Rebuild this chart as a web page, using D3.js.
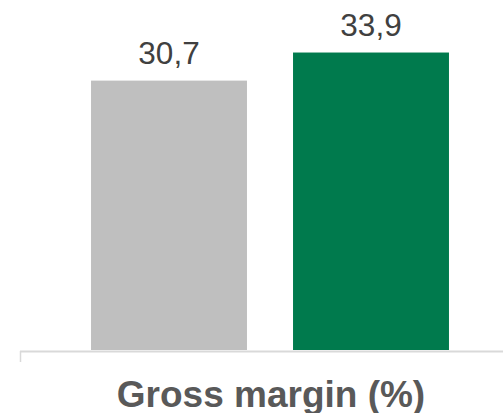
<!DOCTYPE html>
<html><head><meta charset="utf-8">
<script src="https://cdn.jsdelivr.net/npm/d3@7"></script>
<style>html,body{margin:0;padding:0;background:#fff;}svg{display:block;}</style>
</head><body>
<script>
const categories = ["Previous year", "Current year"];
const values = [30.7, 33.9];
const valueLabels = ["30,7", "33,9"];
const colors = ["#bfbfbf", "#007a4d"];
const title = "Gross margin (%)";

const W = 503, H = 413;
const svg = d3.select("body").append("svg").attr("width", W).attr("height", H);

const x = d3.scaleBand().domain(categories).range([68, 472]).paddingInner(0.228).paddingOuter(0.114);
const y = d3.scaleLinear().domain([0, 40]).range([350, -1]);

svg.selectAll("rect.bar").data(values).enter().append("rect")
  .attr("class", "bar")
  .attr("x", (d, i) => x(categories[i]))
  .attr("width", x.bandwidth())
  .attr("y", d => y(d))
  .attr("height", d => y(0) - y(d))
  .attr("fill", (d, i) => colors[i]);

svg.selectAll("text.val").data(values).enter().append("text")
  .attr("class", "val")
  .attr("x", (d, i) => x(categories[i]) + x.bandwidth() / 2)
  .attr("y", d => y(d) - 17)
  .attr("text-anchor", "middle")
  .attr("font-family", "Liberation Sans, Arial, sans-serif")
  .attr("font-size", 31.5)
  .attr("fill", "#404040")
  .text((d, i) => valueLabels[i]);

// axis
svg.append("line").attr("x1", 20).attr("x2", W).attr("y1", 351.5).attr("y2", 351.5)
  .attr("stroke", "#d9d9d9").attr("stroke-width", 2);
svg.append("line").attr("x1", 20.5).attr("x2", 20.5).attr("y1", 351).attr("y2", 362)
  .attr("stroke", "#d9d9d9").attr("stroke-width", 1.5);

svg.append("text")
  .attr("x", 271).attr("y", 406.5)
  .attr("text-anchor", "middle")
  .attr("font-family", "Liberation Sans, Arial, sans-serif")
  .attr("font-weight", "bold")
  .attr("font-size", 37)
  .attr("fill", "#595959")
  .text(title);
</script>
</body></html>
